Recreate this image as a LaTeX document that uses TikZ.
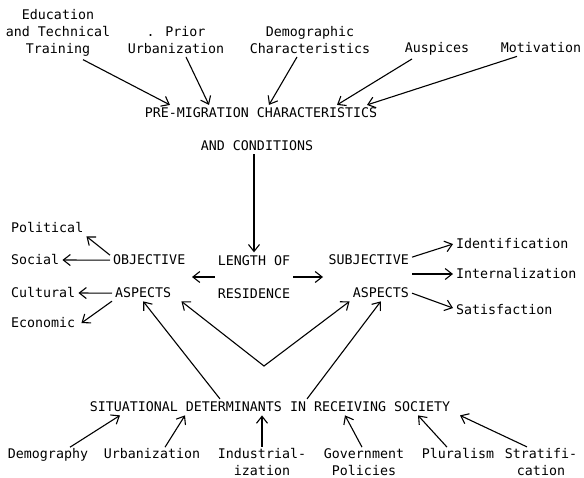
\documentclass[tikz,border=0pt]{standalone}
\usepackage{fontspec}
\setmainfont{DejaVu Sans Mono}
\usetikzlibrary{arrows.meta}

\begin{document}
\begin{tikzpicture}[x=1pt,y=-1pt,
  lbl/.style={inner sep=3pt,anchor=base,font=\fontsize{13.3}{16.8}\selectfont},
  arr/.style={line width=1.1pt,-{Straight Barb[length=7pt,width=11pt]}}]
\useasboundingbox (0,0) rectangle (584,478);

% pre-migration factors (base = last line)
\node[lbl,align=center] (edu) at (58,53.6) {Education\\and Technical\\Training};
\node[lbl,align=center] (prior) at (176,53.6) {. Prior\\Urbanization};
\node[lbl,align=center] (demog) at (310,53.6) {Demographic\\Characteristics};
\node[lbl] (ausp) at (437,53) {Auspices};
\node[lbl] (motiv) at (541,53) {Motivation};

\node[lbl] (premig) at (261,118) {PRE-MIGRATION CHARACTERISTICS};
\node[lbl] (andcond) at (257,151) {AND CONDITIONS};

\draw[arr] ([xshift=25]edu.south) -- ([xshift=-91]premig.north);
\draw[arr] ([xshift=10]prior.south) -- ([xshift=-52]premig.north);
\draw[arr] ([xshift=-13]demog.south) -- ([xshift=8]premig.north);
\draw[arr] ([xshift=-25]ausp.south) -- ([xshift=76]premig.north);
\draw[arr] ([xshift=-24]motiv.south) -- ([xshift=106]premig.north);

% length of residence
\node[lbl,anchor=center,align=center] (length) at (254,277) {LENGTH OF\\[16pt]RESIDENCE};
\draw[arr] ([xshift=-3]andcond.south) -- (length.north);

\node[lbl,anchor=base west] (obj) at (110,265) {OBJECTIVE};
\node[lbl,anchor=base west] (objasp) at (112,298) {ASPECTS};
\node[lbl,anchor=base east] (subj) at (412,265) {SUBJECTIVE};
\node[lbl,anchor=base east] (subjasp) at (412,298) {ASPECTS};
\coordinate (objmid) at (192,277);
\coordinate (subjmid) at (323,277);
\draw[arr] (length.west) -- (objmid);
\draw[arr] (length.east) -- (subjmid);

% objective aspects
\node[lbl,anchor=base west] (political) at (8,233) {Political};
\node[lbl,anchor=base west] (social) at (8,265) {Social};
\node[lbl,anchor=base west] (cultural) at (8,298) {Cultural};
\node[lbl,anchor=base west] (economic) at (8,328) {Economic};
\draw[arr] ([yshift=5]obj.west) -- (political.south east);
\draw[arr] (obj.west) -- (social.east);
\draw[arr] (objasp.west) -- (cultural.east);
\draw[arr] ([yshift=-8]objasp.west) -- ([xshift=3]economic.east);

% subjective aspects
\node[lbl,anchor=base west] (ident) at (453,249) {Identification};
\node[lbl,anchor=base west] (intern) at (453,279) {Internalization};
\node[lbl,anchor=base west] (satis) at (453,315) {Satisfaction};
\draw[arr] ([yshift=3]subj.east) -- (ident.west);
\draw[arr] (subj.east |- intern.west) -- (intern.west);
\draw[arr] (subjasp.east) -- ([yshift=2]satis.west);

% situational determinants
\node[lbl] (situ) at (270,412) {SITUATIONAL DETERMINANTS IN RECEIVING SOCIETY};
\coordinate (vtx) at (264,366);
\draw[arr] ([xshift=-50]situ.north) -- (objasp.south);
\draw[arr] ([xshift=37]situ.north) -- (subjasp.south);
\draw[line width=1.1pt,{Straight Barb[length=7pt,width=11pt]}-{Straight Barb[length=7pt,width=11pt]}]
  ([xshift=7]objasp.south east) -- (vtx) -- (subjasp.south west);

\node[lbl,inner sep=1pt] (demogr) at (48,458.5) {Demography};
\node[lbl,inner sep=1pt] (urban) at (152,458.5) {Urbanization};
\node[lbl,inner sep=1pt,align=center] (indus) at (262,475) {Industrial-\\ization};
\node[lbl,inner sep=1pt,align=center] (govt) at (364,475) {Government\\Policies};
\node[lbl,inner sep=1pt] (plural) at (458,458.5) {Pluralism};
\node[lbl,inner sep=1pt,align=center] (strat) at (541,475) {Stratifi-\\cation};
\draw[arr] ([xshift=22]demogr.north) -- ([xshift=-150]situ.south);
\draw[arr] ([xshift=13]urban.north) -- ([xshift=-85]situ.south);
\draw[arr] (indus.north) -- ([xshift=-8]situ.south);
\draw[arr] ([xshift=-2]govt.north) -- ([xshift=75]situ.south);
\draw[arr] ([xshift=-11]plural.north) -- ([xshift=148]situ.south);
\draw[arr] ([xshift=-14]strat.north) -- ([xshift=190]situ.south);
\end{tikzpicture}
\end{document}
